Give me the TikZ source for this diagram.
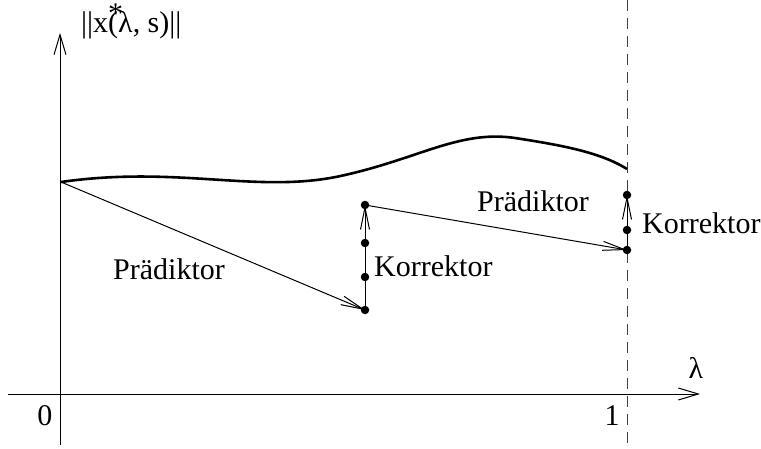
\documentclass[tikz,border=0pt]{standalone}
\usepackage{fontspec}
\setmainfont{Liberation Serif}
\usetikzlibrary{arrows.meta}
\begin{document}
\begin{tikzpicture}[x=1pt,y=-1pt,
  lbl/.style={font=\fontsize{30}{34}\selectfont, inner sep=0pt, anchor=base},
  axis/.style={line width=1pt, -{Straight Barb[length=20pt,width=12pt,line width=1pt]}},
  mv/.style={line width=1pt, -{Straight Barb[length=22pt,width=9pt,line width=1pt]}},
  pt/.style={circle, fill=black, inner sep=0pt, minimum size=8.5pt}]
\useasboundingbox (0,0) rectangle (761,449);
% axes
\coordinate (ybot) at (60,445);
\coordinate (ytop) at (60,33);
\coordinate (xl) at (8,394);
\coordinate (xr) at (700,394);
\draw[axis] (ybot) -- (ytop);
\draw[axis] (xl) -- (xr);
\coordinate (dtop) at (627,0);
\coordinate (dbot) at (627,449);
\draw[line width=1pt, dash pattern=on 11pt off 7pt, black!75] (dtop) -- (dbot);
% solution curve
\coordinate (c0) at (61,182);
\coordinate (c1) at (627,169);
\draw[line width=2.6pt] (c0) .. controls (180,165) and (260,195) .. (345,175)
  .. controls (420,158) and (460,130) .. (515,138)
  .. controls (560,145) and (600,152) .. (c1);
% points
\node[pt] (p1) at (365,310) {};
\node[pt] (p2) at (365,277) {};
\node[pt] (p3) at (365,243) {};
\node[pt] (p4) at (365,205) {};
\node[pt] (q1) at (627,250) {};
\node[pt] (q2) at (627,230) {};
\node[pt] (q3) at (627,195) {};
% predictor and corrector steps
\draw[mv] (c0) -- (p1.center);
\draw[mv] (p1.center) -- (p4.center);
\draw[mv] (p4.center) -- (q1.center);
\draw[mv] (q1.center) -- (q3.center);
% labels
\node[lbl] (l1) at (169,280) {Prädiktor};
\node[lbl, anchor=base west] (l2) at (374,277) {Korrektor};
\node[lbl] (l3) at (533,212) {Prädiktor};
\node[lbl, anchor=base west] (l4) at (642,234) {Korrektor};
\node[lbl] (lam) at (696,378) {λ};
\node[lbl] (zero) at (45,425) {0};
\node[lbl] (one) at (612,425) {1};
\node[lbl, anchor=base west] (ylab) at (81,33) {||x\rlap{\raisebox{0.33em}{*}}(λ, s)||};
\end{tikzpicture}
\end{document}
